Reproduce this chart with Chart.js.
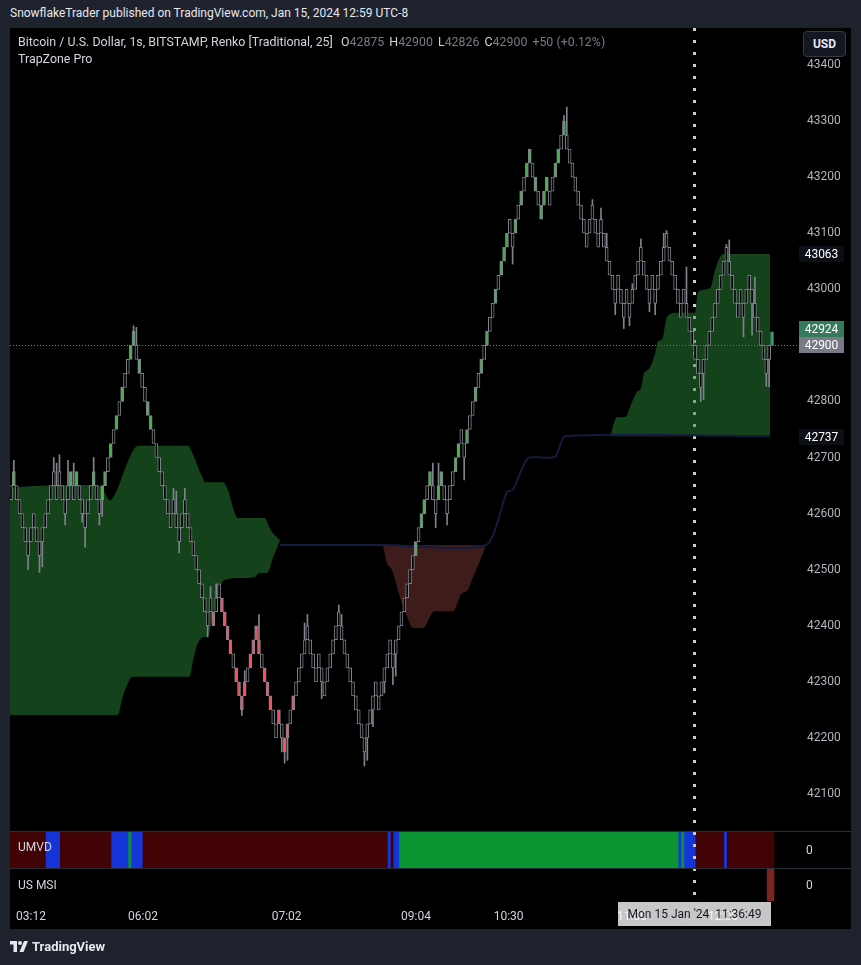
<!DOCTYPE html>
<html lang="en">
<head>
<meta charset="utf-8">
<title>BTCUSD Renko 25 - TrapZone Pro</title>
<script src="https://cdn.jsdelivr.net/npm/chart.js@4.4.1/dist/chart.umd.min.js"></script>
<style>
  html, body { margin: 0; padding: 0; background: #1e222d; }
  body { position: relative; width: 861px; height: 965px; overflow: hidden;
         font-family: Roboto, "Noto Sans", "DejaVu Sans", sans-serif; font-size: 12px; color: #d1d4dc; }
  .abs { position: absolute; white-space: nowrap; }
  #frame { left: 10px; top: 28px; width: 841px; height: 901px; background: #000; }
  canvas { position: absolute; left: 10px; }
  #mainCv { top: 28px; }
  #umvdCv { top: 832px; }
  #msiCv { top: 869px; }
  .sep { left: 10px; width: 841px; height: 1px; background: #2a2e39; }
  #hdr { left: 10px; top: 5px; font-size: 12px; line-height: 16px; color: #e6e8ee; }
  .legend { left: 18px; font-size: 12.4px; line-height: 16px; }
  .legend .k { margin-left: 5px; }
  .legend .v { color: #787b86; }
  #usd { left: 803px; top: 31px; width: 41px; height: 24px; border: 1px solid #363a45; border-radius: 4px;
         background: #131722; color: #e6e8ee; font-weight: bold; text-align: center; line-height: 24px; }
  .pane-lbl { left: 18px; line-height: 16px; }
  .zero { left: 806px; line-height: 16px; }
  #crossTime { left: 618px; top: 902px; width: 153px; height: 24px; background: rgba(255,255,255,0.78);
               color: #131722; line-height: 24px; text-align: center; }
  #brand { left: 10px; top: 939px; font-size: 13px; font-weight: bold; color: #e6e8ee; line-height: 16px; }
  #brand svg { vertical-align: -1px; margin-right: 4px; }
</style>
</head>
<body>
<div id="frame" class="abs"></div>
<div id="hdr" class="abs">SnowflakeTrader published on TradingView.com, Jan 15, 2024 12:59 UTC-8</div>

<canvas id="mainCv" width="841" height="803"></canvas>
<div class="abs sep" style="top:831px"></div>
<canvas id="umvdCv" width="841" height="36"></canvas>
<div class="abs sep" style="top:868px"></div>
<canvas id="msiCv" width="841" height="60"></canvas>

<div class="abs legend" style="top:34px">Bitcoin / U.S. Dollar, 1s, BITSTAMP, Renko [Traditional, 25] <span class="k">O</span><span class="v">42875</span><span class="k">H</span><span class="v">42900</span><span class="k">L</span><span class="v">42826</span><span class="k">C</span><span class="v">42900</span><span class="k v">+50 (+0.12%)</span></div>
<div class="abs legend" style="top:51px">TrapZone Pro</div>
<div id="usd" class="abs">USD</div>

<div class="abs pane-lbl" style="top:839px">UMVD</div>
<div class="abs zero" style="top:842px">0</div>
<div class="abs pane-lbl" style="top:877px">US MSI</div>
<div class="abs zero" style="top:877px">0</div>
<div id="crossTime" class="abs">Mon 15 Jan '24&nbsp;&nbsp;11:36:49</div>
<div id="brand" class="abs"><svg width="18" height="11" viewBox="0 0 36 22"><path d="M0 0h14v22H7V7H0z" fill="#e6e8ee"/><circle cx="20" cy="4" r="4" fill="#e6e8ee"/><path d="M28 0h8l-9 22h-8z" fill="#e6e8ee"/></svg>TradingView</div>

<script>
// ---- data ------------------------------------------------------------------
var BOX = 25;

// low edge of every completed renko brick, left to right
var brickLows = [
  42625,42650,42625,42600,42575,42550,42525,42550,42575,42550,
  42525,42550,42575,42600,42625,42650,42625,42650,42625,42600,
  42625,42650,42625,42650,42625,42600,42575,42600,42625,42650,
  42625,42600,42625,42650,42675,42700,42725,42750,42775,42800,
  42825,42850,42875,42900,42875,42850,42825,42800,42775,42750,
  42725,42700,42675,42650,42625,42600,42575,42600,42575,42550,
  42575,42600,42575,42550,42525,42500,42475,42450,42425,42400,
  42425,42400,42425,42450,42425,42400,42375,42350,42325,42300,
  42275,42250,42275,42300,42325,42350,42375,42350,42325,42300,
  42275,42250,42225,42200,42225,42200,42175,42200,42225,42250,
  42275,42300,42325,42350,42375,42350,42325,42300,42325,42300,
  42275,42300,42325,42350,42375,42400,42375,42350,42325,42300,
  42275,42250,42225,42200,42175,42200,42225,42250,42275,42250,
  42275,42300,42325,42350,42325,42350,42375,42400,42425,42450,
  42475,42500,42525,42550,42575,42600,42625,42650,42625,42600,
  42625,42650,42625,42600,42625,42650,42675,42700,42725,42700,
  42725,42750,42775,42800,42825,42850,42875,42900,42925,42950,
  42975,43000,43025,43050,43075,43100,43075,43100,43125,43150,
  43175,43200,43225,43200,43175,43150,43125,43150,43175,43150,
  43175,43200,43225,43250,43275,43250,43225,43200,43175,43150,
  43125,43100,43075,43100,43125,43100,43075,43100,43075,43050,
  43025,43000,42975,43000,42975,42950,42975,42950,42975,43000,
  43025,43050,43025,43000,42975,43000,42975,43000,43025,43050,
  43075,43050,43025,43000,42975,42950,42975,42950,42925,42900,
  42875,42850,42825,42850,42875,42900,42925,42950,42975,43000,
  43025,43050,43025,43000,42975,42950,42975,42950,42975,43000,
  42975,42950,42925,42900,42875,42850,42875
];
// brick still forming at the right edge
var liveOpen = 42900;
var livePrice = 42924;

var greenBricks = [1,21,23,29,32,33,35,37,39,42,43,45,48,49,
  142,144,145,147,150,151,156,157,160,163,165,167,
  170,172,173,174,177,179,181,182,184,186,187,188,191,192,194];
var redBricks = [71,74,75,76,77,79,80,81,82,84,85,86,87,89,90,91,94,96,97,99];

// wicks: brick index and the price the wick reaches
var wickIdx = [1,6,10,11,15,16,17,19,20,22,25,26,29,31,32,43,44,57,58,59,
  61,69,70,72,81,82,87,95,96,97,103,104,109,115,116,124,125,127,131,134,
  135,148,149,150,153,159,176,194,195,204,207,209,212,215,217,218,221,224,226,229,
  230,237,242,243,251,252,257,260,261,265,266];
var wickTo = [42695,42500,42495,42505,42700,42690,42705,42580,42695,42690,42585,42540,42700,42580,42595,42935,42932,42645,42640,42530,
  42645,42380,42470,42475,42240,42320,42420,42175,42155,42160,42405,42420,42270,42437,42420,42150,42160,42220,42280,42295,
  42310,42690,42575,42690,42580,42660,43045,43310,43325,43160,43145,43100,42955,42930,42935,43010,43090,42960,42955,43100,
  43105,43040,42800,42803,43080,43088,42915,42918,43022,42827,42826];

// TrapZone bands (x = brick index)
var zone1X   = [-0.4,6.7,30.5,32.3,34.7,37.5,38.9,40.7,42.5,44.6,62.1,62.8,63.9,65.3,66.3,67.4,68.1,69.1,70.5,72.6,74.4,76.1,78.2,79.6,85.6,87,89.1,90.2,91.6,93.3,94.4];
var zone1Top = [42646,42649,42651,42642,42624,42646,42665,42689,42710,42721,42721,42717,42705,42687,42674,42662,42656,42656,42656,42656,42656,42642,42606,42592,42592,42592,42592,42580,42567,42558,42553];
var zone1Bot = [42241,42241,42241,42241,42241,42241,42268,42294,42309,42309,42309,42310,42339,42366,42375,42380,42380,42382,42410,42453,42480,42483,42485,42485,42487,42494,42494,42496,42517,42539,42553];

var redZoneX   = [130.5,131.9,133.7,136.5,139,141,144.6,147,148.4,155.1,158.2,160,162.1,164.6,166.7];
var redZoneTop = [42544,42544,42544,42544,42544,42544,42544,42544,42544,42544,42544,42544,42544,42544,42544];
var redZoneBot = [42544,42512,42499,42451,42416,42396,42396,42416,42426,42426,42458,42462,42487,42517,42544];

var zone2X   = [210.2,212.6,215.4,217.9,219.6,221.1,222.1,223.5,226,227,228.4,230.2,233.7,240,241,245.3,247,248.8,250.2,266.3];
var zone2Top = [42738,42772,42772,42799,42817,42824,42851,42856,42886,42908,42910,42951,42958,42958,42995,43002,43034,43058,43063,43063];
var zone2Bot = [42738,42738,42738,42738,42738,42738,42738,42738,42738,42738,42738,42738,42738,42738,42738,42738,42738,42738,42738,42738];

var baseLineX = [94.4,131.2,166.7,174,176.1,181.4,190.9,194.4,266.3];
var baseLineY = [42544,42544,42544,42639,42642,42699,42701,42738,42738];

var priceTicks = [42100,42200,42300,42400,42500,42600,42700,42800,42900,43000,43100,43200,43300,43400];
var zoneHigh = 43063;
var zoneBase = 42737;
var lastClose = 42900;
var markerIdx = 239.6;

var timeTickIdx = [7,46.3,96.7,142.1,174.6,217.9,249.8];
var timeLabels = ['03:12','06:02','07:02','09:04','10:30','11:00','12:00'];

// UMVD state changes: first brick of each run and its state
var umvdSegStart = [0,13,18,36,42,43,47,133,134,135,137,235,236,237,241,251,252];
var umvdSegState = ['bear','flat','bear','flat','bull','flat','bear','flat','bear','flat','bull','flat','bull','flat','bear','flat','bear'];

var msiIdx = [266,267];
var msiVal = [1,1];

// ---- layout ----------------------------------------------------------------
var FONT = 'Roboto, "Noto Sans", "DejaVu Sans", sans-serif';
var PLOT_W = 780, AXIS_W = 61, FIRST_PX = 1, LAST_PX = 762;
var Y_MIN = 42034, Y_MAX = 43466;
var GREY = '#80838e';

Chart.defaults.font.family = FONT;
Chart.defaults.font.size = 12;

var N = brickLows.length;
var pxPerBrick = (LAST_PX - FIRST_PX) / N;
var X_MIN = -FIRST_PX / pxPerBrick;
var X_MAX = X_MIN + PLOT_W / pxPerBrick;

function pts(xs, ys) { return xs.map(function (x, i) { return { x: x, y: ys[i] }; }); }

// axes must not reserve room for half labels: the plot runs edge to edge
function noEdgePadding(sc) { sc.paddingTop = 0; sc.paddingBottom = 0; sc.paddingLeft = 0; sc.paddingRight = 0; }

var bricks = brickLows.map(function (lo, i) { return { x: i, y: [lo, lo + BOX] }; });
bricks.push({ x: N, y: [liveOpen, livePrice] });
var brickFill = bricks.map(function (b, i) {
  if (i === N) return 'rgba(70,165,125,0.85)';
  if (greenBricks.indexOf(i) >= 0) return '#4caf50';
  if (redBricks.indexOf(i) >= 0) return '#f7525f';
  return '#000';
});
var brickEdge = bricks.map(function (b, i) { return i === N ? 'rgba(70,165,125,0.85)' : GREY; });

var wicks = wickIdx.map(function (i, k) {
  var lo = brickLows[i], p = wickTo[k];
  return { x: i, y: p > lo ? [lo + BOX, p] : [p, lo] };
});

function zoneSet(xs, top, bot, fillColor) {
  var common = { type: 'line', pointRadius: 0, borderWidth: 1, borderColor: 'rgba(0,0,0,0)',
                 tension: 0.3, cubicInterpolationMode: 'monotone', order: 10 };
  return [
    Object.assign({ data: pts(xs, top), fill: '+1', backgroundColor: fillColor }, common),
    Object.assign({ data: pts(xs, bot), fill: false }, common)
  ];
}

// dotted session marker, drawn in every pane
function markerPlugin(dashOffset, toY, onTop) {
  function draw(chart) {
    var ctx = chart.ctx, a = chart.chartArea;
    var mx = Math.round(chart.scales.x.getPixelForValue(markerIdx)) + 0.5;
    ctx.save();
    ctx.strokeStyle = '#c9cbd2'; ctx.lineWidth = 3;
    ctx.setLineDash([3, 9]); ctx.lineDashOffset = dashOffset;
    ctx.beginPath(); ctx.moveTo(mx, a.top); ctx.lineTo(mx, toY == null ? a.bottom : toY); ctx.stroke();
    ctx.restore();
  }
  return onTop ? { id: 'marker', afterDatasetsDraw: draw } : { id: 'marker', beforeDatasetsDraw: draw };
}

function labelBox(ctx, text, yMid, bg) {
  ctx.fillStyle = bg;
  ctx.fillRect(789, Math.round(yMid - 8), 45, 16);
  ctx.fillStyle = '#ffffff';
  ctx.font = '12px ' + FONT;
  ctx.textAlign = 'center'; ctx.textBaseline = 'middle';
  ctx.fillText(text, 811.5, Math.round(yMid) + 0.5);
}

var priceOverlay = {
  id: 'priceOverlay',
  beforeDatasetsDraw: function (chart) {
    var ctx = chart.ctx, a = chart.chartArea, ys = chart.scales.y;
    var py = Math.round(ys.getPixelForValue(lastClose)) + 0.5;
    ctx.save();
    ctx.strokeStyle = '#7b7e89'; ctx.lineWidth = 1; ctx.setLineDash([1, 2]);
    ctx.beginPath(); ctx.moveTo(a.left, py); ctx.lineTo(a.right + 8, py); ctx.stroke();
    ctx.restore();
  },
  afterDraw: function (chart) {
    var ctx = chart.ctx, ys = chart.scales.y;
    var yClose = ys.getPixelForValue(lastClose);
    ctx.save();
    labelBox(ctx, String(zoneHigh), ys.getPixelForValue(zoneHigh), '#0d0f18');
    labelBox(ctx, String(lastClose), yClose, '#787b86');
    labelBox(ctx, String(livePrice), yClose - 16, '#357a5b');
    labelBox(ctx, String(zoneBase), ys.getPixelForValue(zoneBase), '#0d0f18');
    ctx.restore();
  }
};

// ---- main pane --------------------------------------------------------------
var mainSets = []
  .concat(zoneSet(zone1X, zone1Top, zone1Bot, 'rgba(42,140,58,0.47)'))
  .concat(zoneSet(redZoneX, redZoneTop, redZoneBot, 'rgba(132,60,58,0.47)'))
  .concat(zoneSet(zone2X, zone2Top, zone2Bot, 'rgba(42,140,58,0.47)'));
mainSets.push({ type: 'line', data: pts(baseLineX, baseLineY), borderColor: '#141b3c', borderWidth: 2,
                pointRadius: 0, tension: 0.2, fill: false, order: 8 });
mainSets.push({ type: 'bar', data: wicks, backgroundColor: GREY, borderWidth: 0,
                barThickness: 1, grouped: false, order: 5 });
mainSets.push({ type: 'bar', data: bricks, backgroundColor: brickFill, borderColor: brickEdge,
                borderWidth: 1, borderSkipped: false, barThickness: 3, grouped: false, order: 1 });

new Chart(document.getElementById('mainCv'), {
  type: 'bar',
  data: { datasets: mainSets },
  options: {
    responsive: false, animation: false,
    layout: { padding: 0 },
    plugins: { legend: { display: false }, tooltip: { enabled: false } },
    scales: {
      x: { type: 'linear', min: X_MIN, max: X_MAX, display: false, offset: false },
      y: {
        type: 'linear', position: 'right', min: Y_MIN, max: Y_MAX,
        grid: { display: false, drawTicks: false }, border: { display: false },
        afterFit: function (sc) { sc.width = AXIS_W; noEdgePadding(sc); },
        afterBuildTicks: function (sc) { sc.ticks = priceTicks.map(function (v) { return { value: v }; }); },
        ticks: { color: '#b2b5be', padding: 17, callback: function (v) { return String(v); } }
      }
    }
  },
  plugins: [markerPlugin(0, null, false), priceOverlay]
});

// ---- UMVD pane --------------------------------------------------------------
var UMVD_COLORS = { bear: '#410306', flat: '#1535d8', bull: '#0a9532' };
function umvdState(i) {
  var s = umvdSegState[0];
  for (var k = 0; k < umvdSegStart.length; k++) if (i >= umvdSegStart[k]) s = umvdSegState[k];
  return s;
}
var umvdBars = bricks.map(function (b, i) { return { x: i, y: 1 }; });

new Chart(document.getElementById('umvdCv'), {
  type: 'bar',
  data: { datasets: [{ data: umvdBars, backgroundColor: umvdBars.map(function (b) { return UMVD_COLORS[umvdState(b.x)]; }),
                       borderWidth: 0, barThickness: 4, grouped: false }] },
  options: {
    responsive: false, animation: false,
    layout: { padding: { right: AXIS_W } },
    plugins: { legend: { display: false }, tooltip: { enabled: false } },
    scales: {
      x: { type: 'linear', min: X_MIN, max: X_MAX, display: false, offset: false },
      y: { min: 0, max: 1, display: false }
    }
  },
  plugins: [markerPlugin(0, null, true)]
});

// ---- US MSI pane + time axis ------------------------------------------------
new Chart(document.getElementById('msiCv'), {
  type: 'bar',
  data: { datasets: [{ data: pts(msiIdx, msiVal), backgroundColor: '#7d2424', borderWidth: 0,
                       barThickness: 4, grouped: false }] },
  options: {
    responsive: false, animation: false,
    layout: { padding: { right: AXIS_W } },
    plugins: { legend: { display: false }, tooltip: { enabled: false } },
    scales: {
      x: {
        type: 'linear', min: X_MIN, max: X_MAX, position: 'bottom', offset: false,
        grid: { display: false, drawTicks: false }, border: { display: false },
        afterFit: function (sc) { sc.height = 28; noEdgePadding(sc); },
        afterBuildTicks: function (sc) { sc.ticks = timeTickIdx.map(function (v) { return { value: v }; }); },
        ticks: { autoSkip: false, maxRotation: 0, color: '#d1d4dc', padding: 9,
                 callback: function (v, i) { return timeLabels[i]; } }
      },
      y: { min: 0, max: 1, display: false }
    }
  },
  plugins: [markerPlugin(1, 29, true)]
});
</script>
</body>
</html>
